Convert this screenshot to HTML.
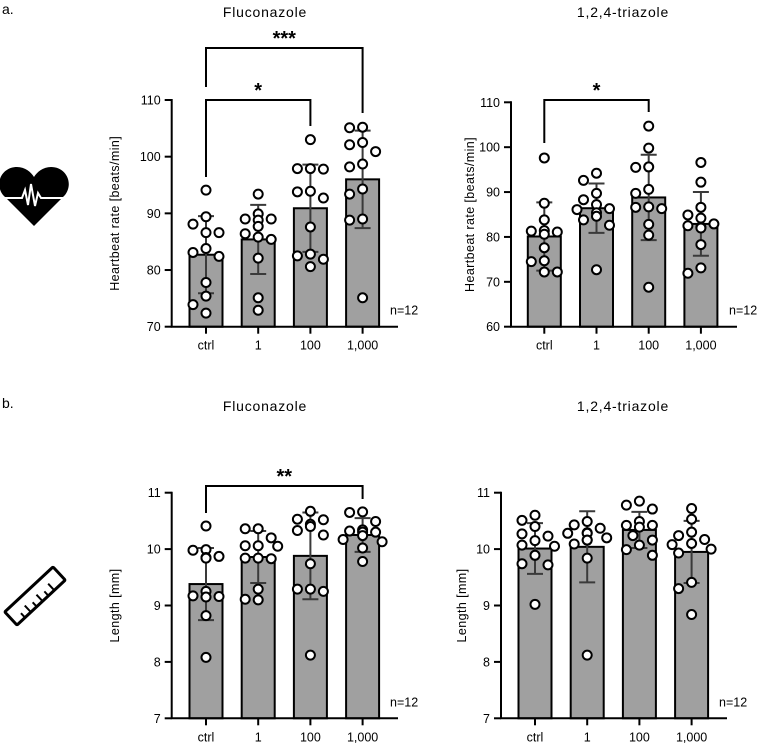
<!DOCTYPE html>
<html><head><meta charset="utf-8"><style>
body{margin:0;background:#fff;}
svg{display:block;font-family:"Liberation Sans","DejaVu Sans",sans-serif;}
</style></head><body>
<svg id="fig" width="758" height="743" viewBox="0 0 758 743" xmlns="http://www.w3.org/2000/svg">
<text x="2" y="14" font-size="14">a.</text>
<text x="2" y="408" font-size="14">b.</text>
<text x="265" y="17" font-size="14" text-anchor="middle" letter-spacing="0.8">Fluconazole</text>
<text x="623" y="17" font-size="14" text-anchor="middle" letter-spacing="0.8">1,2,4-triazole</text>
<text x="265" y="411" font-size="14" text-anchor="middle" letter-spacing="0.8">Fluconazole</text>
<text x="623" y="411" font-size="14" text-anchor="middle" letter-spacing="0.8">1,2,4-triazole</text>
<g>
<path d="M34,226 L3,195 C-6,183 2,167 17,167 C25,167 31,172 34,177 C37,172 43,167 51,167 C66,167 74,183 65,195 Z" fill="#000"/>
<polyline points="3,198 22,198 25,190 28,205 31,184 35,206 38,193 41,198 66,198" fill="none" stroke="#fff" stroke-width="2"/>
</g>
<g transform="translate(35,596) rotate(-43)">
<rect x="-33" y="-9" width="66" height="18" fill="none" stroke="#000" stroke-width="3" rx="1"/>
<path d="M-22,9 v-6 M-14,9 v-9 M-6,9 v-6 M2,9 v-9 M10,9 v-6 M18,9 v-9" stroke="#000" stroke-width="2"/>
</g>
<g id="charts"></g>
</svg>
<script>
const categories = ["ctrl","1","100","1,000"];
// Panel A: Fluconazole heartbeat
const hrFluMeans = [82.7, 85.4, 90.9, 96.0];
const hrFluSD = [6.8, 6.1, 7.7, 8.6];
const hrFluPoints = [
 [94.1,88.1,86.6,86.6,89.4,83.1,82.4,83.8,77.8,75.4,73.9,72.4],
 [93.4,89.0,88.8,89.9,89.0,87.7,86.4,85.4,85.8,82.1,75.1,72.9],
 [103.0,97.8,97.9,97.9,93.8,93.9,92.7,87.6,82.8,82.5,81.9,80.6],
 [105.1,105.2,102.5,102.1,100.9,98.7,98.2,94.3,93.4,89.0,88.8,75.1]];
const hrFluTicks = [70,80,90,100,110];
// Panel B: triazole heartbeat
const hrTriMeans = [80.1, 86.4, 88.8, 82.9];
const hrTriSD = [7.6, 5.5, 9.5, 7.1];
const hrTriPoints = [
 [97.6,87.5,83.8,81.4,81.3,81.1,80.6,77.6,74.7,74.5,72.2,72.2],
 [94.2,92.6,89.7,88.3,87.2,86.3,86.1,85.4,84.6,83.8,82.6,72.7],
 [104.7,99.8,95.5,95.6,90.6,89.7,86.7,86.3,86.6,82.8,80.4,68.8],
 [96.6,92.2,86.6,84.9,84.2,82.9,82.5,82.2,82.0,78.3,73.1,71.9]];
const hrTriTicks = [60,70,80,90,100,110];
// Panel C: Fluconazole length
const lenFluMeans = [9.38, 9.86, 9.88, 10.25];
const lenFluSD = [0.64, 0.46, 0.77, 0.30];
const lenFluPoints = [
 [10.41,9.99,9.98,9.84,9.85,9.87,9.17,9.16,9.25,9.15,8.82,8.08],
 [10.36,10.36,10.20,10.06,10.06,10.05,9.84,9.83,9.84,9.29,9.11,9.10],
 [10.67,10.52,10.53,10.44,10.40,10.33,10.25,9.74,9.29,9.25,9.29,8.12],
 [10.66,10.65,10.49,10.34,10.30,10.32,10.30,10.24,10.17,10.13,10.02,9.78]];
const lenFluTicks = [7,8,9,10,11];
// Panel D: triazole length
const lenTriMeans = [10.01, 10.04, 10.34, 9.95];
const lenTriSD = [0.45, 0.63, 0.32, 0.55];
const lenTriPoints = [
 [10.60,10.51,10.40,10.27,10.23,10.15,10.07,10.05,9.89,9.74,9.72,9.02],
 [10.49,10.43,10.37,10.28,10.28,10.29,10.20,10.16,10.16,10.09,9.84,8.12],
 [10.85,10.78,10.71,10.49,10.42,10.39,10.42,10.24,10.16,10.07,9.99,9.89],
 [10.72,10.53,10.30,10.24,10.17,10.10,10.08,10.00,9.93,9.41,9.30,8.84]];
const lenTriTicks = [7,8,9,10,11];

const NS="http://www.w3.org/2000/svg";
const root=document.getElementById('charts');
function mk(tag,attrs,parent){const e=document.createElementNS(NS,tag);for(const k in attrs)e.setAttribute(k,attrs[k]);(parent||root).appendChild(e);return e;}

function panel(cfg){
 const g=mk('g',{});
 
 
 const lo=cfg.ticks[0], hi=cfg.ticks[cfg.ticks.length-1];
 const y=v=>cfg.yBot-(v-lo)/(hi-lo)*(cfg.yBot-cfg.yTop);
 const x=i=>cfg.bar0+i*cfg.step;
 const bw=33;
 // bars
 cfg.means.forEach((m,i)=>{
  const r=mk('rect',{x:x(i)-bw/2,y:y(m),width:bw,height:cfg.yBot-y(m),fill:'#a0a0a0',stroke:'#000','stroke-width':2},g);
  
  
 });
 // error bars
 cfg.means.forEach((m,i)=>{
  const t=y(m+cfg.sd[i]), b=y(m-cfg.sd[i]);
  const e=mk('path',{d:`M${x(i)},${t}V${b}M${x(i)-8},${t}H${x(i)+8}M${x(i)-8},${b}H${x(i)+8}`,stroke:'#3a3a3a','stroke-width':2,fill:'none'},g);
  
  
 });
 // points (beeswarm)
 cfg.points.forEach((pts,i)=>{
  const placed=[];
  const sorted=pts.slice().sort((a,b)=>b-a);
  sorted.forEach(v=>{
   const py=y(v);
   let px=x(i);
   for(const o of [0,-13,13,-6.5,6.5,-19.5,19.5]){
    const cx=x(i)+o;
    if(placed.every(p=>Math.hypot(p[0]-cx,p[1]-py)>=10.5)){px=cx;break;}
   }
   placed.push([px,py]);
   const c=mk('circle',{cx:px,cy:py,r:4.5,fill:'#fff',stroke:'#000','stroke-width':2},g);
   
   
  });
 });
 // axes
 const ax=mk('path',{d:`M${cfg.axX},${cfg.yTop-1}V${cfg.yBot}H${cfg.axEnd}`,stroke:'#000','stroke-width':2,fill:'none'},g);
 
 
 cfg.ticks.forEach(t=>{
  mk('path',{d:`M${cfg.axX-7},${y(t)}H${cfg.axX}`,stroke:'#000','stroke-width':2},g);
  const tx=mk('text',{x:cfg.axX-11,y:y(t)+4.5,'font-size':12.5,'text-anchor':'end'},g);
  tx.textContent=t;
  
  
 });
 categories.forEach((c,i)=>{
  mk('path',{d:`M${x(i)},${cfg.yBot}v7`,stroke:'#000','stroke-width':2},g);
  if(cfg.showX){
   const tx=mk('text',{x:x(i),y:cfg.yBot+23,'font-size':12.5,'text-anchor':'middle'},g);
   tx.textContent=c;
   
   
  }
 });
 const yl=mk('text',{transform:`translate(${cfg.labX},${(cfg.yTop+cfg.yBot)/2}) rotate(-90)`,'font-size':12.5,'text-anchor':'middle','letter-spacing':0.4},g);
 yl.textContent=cfg.yLabel;
 
 
 const n=mk('text',{x:cfg.axEnd-8,y:cfg.yBot-12,'font-size':12.5},g);
 n.textContent='n=12';
 
 
 // significance brackets
 (cfg.brackets||[]).forEach(b=>{
  const p=mk('path',{d:`M${x(b.a)},${b.ya}V${b.y}H${x(b.b)}V${b.yb}`,stroke:'#000','stroke-width':2,fill:'none'},g);
  
  
  const s=mk('text',{x:(x(b.a)+x(b.b))/2,y:b.y-3,'font-size':20,'font-weight':'bold','text-anchor':'middle'},g);
  s.textContent=b.label;
  
  
 });
}

panel({name:'chart-heartbeat-fluconazole',means:hrFluMeans,sd:hrFluSD,points:hrFluPoints,ticks:hrFluTicks,
 yTop:100,yBot:326.7,axX:171.7,axEnd:398,bar0:206,step:52.2,labX:119,yLabel:'Heartbeat rate [beats/min]',showX:true,
 brackets:[{a:0,b:2,y:100,ya:177,yb:126,label:'*'},{a:0,b:3,y:48,ya:87,yb:113,label:'***'}]});
panel({name:'chart-heartbeat-triazole',means:hrTriMeans,sd:hrTriSD,points:hrTriPoints,ticks:hrTriTicks,
 yTop:102.3,yBot:326.7,axX:511,axEnd:737,bar0:544.3,step:52.2,labX:474,yLabel:'Heartbeat rate [beats/min]',showX:true,
 brackets:[{a:0,b:2,y:100,ya:143,yb:112,label:'*'}]});
panel({name:'chart-length-fluconazole',means:lenFluMeans,sd:lenFluSD,points:lenFluPoints,ticks:lenFluTicks,
 yTop:492.7,yBot:718.3,axX:171.7,axEnd:398,bar0:206,step:52.2,labX:119,yLabel:'Length [mm]',showX:true,
 brackets:[{a:0,b:3,y:486,ya:513,yb:499,label:'**'}]});
panel({name:'chart-length-triazole',means:lenTriMeans,sd:lenTriSD,points:lenTriPoints,ticks:lenTriTicks,
 yTop:492.7,yBot:718.3,axX:501,axEnd:727,bar0:535,step:52.2,labX:466,yLabel:'Length [mm]',showX:true});
</script>
</body></html>
